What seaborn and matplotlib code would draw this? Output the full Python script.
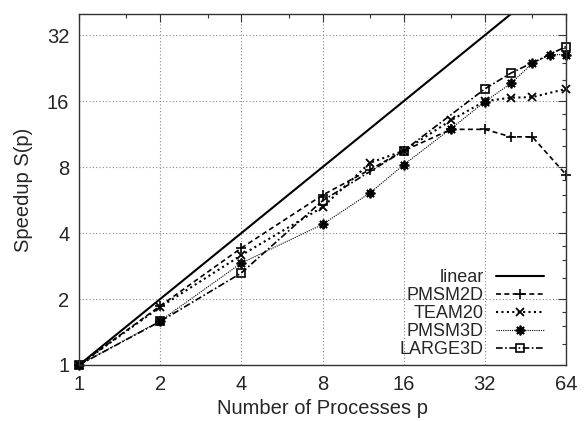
import matplotlib
matplotlib.use('Agg')
import matplotlib.pyplot as plt
import matplotlib.ticker as mticker
import seaborn as sns

# --- data ---
linear_p = [1, 2, 4, 8, 16, 32, 64]
linear_s = [1, 2, 4, 8, 16, 32, 64]

pmsm2d_p = [1, 2, 4, 8, 12, 16, 24, 32, 40, 48, 64]
pmsm2d_s = [1, 1.86, 3.42, 5.96, 7.8, 9.5, 11.9, 11.9, 11.0, 11.0, 7.4]

team20_p = [1, 2, 4, 8, 12, 16, 24, 32, 40, 48, 64]
team20_s = [1, 1.84, 3.17, 5.25, 8.37, 9.5, 13.1, 16.0, 16.6, 16.7, 18.2]

pmsm3d_p = [1, 2, 4, 8, 12, 16, 24, 32, 40, 48, 56, 64]
pmsm3d_s = [1, 1.59, 2.92, 4.38, 6.1, 8.2, 12.0, 15.9, 19.3, 23.8, 26.1, 26.1]

large3d_p = [1, 2, 4, 8, 16, 32, 40, 64]
large3d_s = [1, 1.58, 2.63, 5.62, 9.5, 18.2, 21.5, 28.4]

ticks = [1, 2, 4, 8, 16, 32, 64]
yticks = [1, 2, 4, 8, 16, 32]

sns.set_style('white')
plt.rcParams['font.family'] = ['Liberation Sans', 'DejaVu Sans']

fig = plt.figure(figsize=(5.86, 4.21), dpi=100)
ax = fig.add_axes([79 / 586, 1 - 365 / 421, 487 / 586, 351 / 421])
ax.set_xscale('log', base=2)
ax.set_yscale('log', base=2)

series = [
    ('linear', linear_p, linear_s, dict(linestyle='-', linewidth=1.5, marker=None)),
    ('PMSM2D', pmsm2d_p, pmsm2d_s, dict(linestyle=(0, (3, 2)), linewidth=1.2, clip_on=False,
                                        marker='+', markersize=7, markeredgewidth=1.2)),
    ('TEAM20', team20_p, team20_s, dict(linestyle=(0, (1, 1.6)), linewidth=1.5, clip_on=False,
                                        marker='x', markersize=6, markeredgewidth=1.3)),
    ('PMSM3D', pmsm3d_p, pmsm3d_s, dict(linestyle=(0, (1, 1)), linewidth=0.8, clip_on=False,
                                        marker=(8, 2, 0), markersize=7, markeredgewidth=1.3)),
    ('LARGE3D', large3d_p, large3d_s, dict(linestyle=(0, (4, 1.5, 1, 1.5)), linewidth=1.2,
                                           marker='s', markersize=6, markerfacecolor='none',
                                           markeredgewidth=1.2, clip_on=False)),
]

for name, xs, ys, kw in series:
    sns.lineplot(x=xs, y=ys, ax=ax, color='black', markeredgecolor='black',
                 label=name, **kw)

ax.set_xlim(1, 64)
ax.set_ylim(1, 40)
ax.xaxis.set_major_locator(mticker.FixedLocator(ticks))
ax.yaxis.set_major_locator(mticker.FixedLocator(yticks))
ax.xaxis.set_major_formatter(mticker.FixedFormatter([str(t) for t in ticks]))
ax.yaxis.set_major_formatter(mticker.FixedFormatter([str(t) for t in yticks]))
ax.xaxis.set_minor_locator(mticker.LogLocator(base=2, subs=[1.5]))
ax.yaxis.set_minor_locator(mticker.LogLocator(base=2, subs=[1.25, 1.5, 1.75]))
ax.xaxis.set_minor_formatter(mticker.NullFormatter())
ax.yaxis.set_minor_formatter(mticker.NullFormatter())

ax.tick_params(which='both', direction='in', top=True, right=True, labelsize=14.5,
               color='#333333')
ax.tick_params(which='major', length=6, width=0.8, pad=7)
ax.tick_params(which='minor', length=3, width=0.8)
ax.grid(True, which='major', color='#888888', linestyle=(0, (1, 2)), linewidth=0.8)
for sp in ax.spines.values():
    sp.set_color('#333333')
    sp.set_linewidth(1.0)

ax.set_xlabel('Number of Processes p', fontsize=14.5, labelpad=4)
ax.set_ylabel('Speedup S(p)', fontsize=14.5, labelpad=10)

ax.legend(loc='lower right', bbox_to_anchor=(0.955, 0.02), frameon=False,
          markerfirst=False, fontsize=13, labelspacing=0.05, handlelength=2.65,
          handletextpad=0.7, borderpad=0, borderaxespad=0)

plt.savefig('out.png', dpi=100)
plt.close()
